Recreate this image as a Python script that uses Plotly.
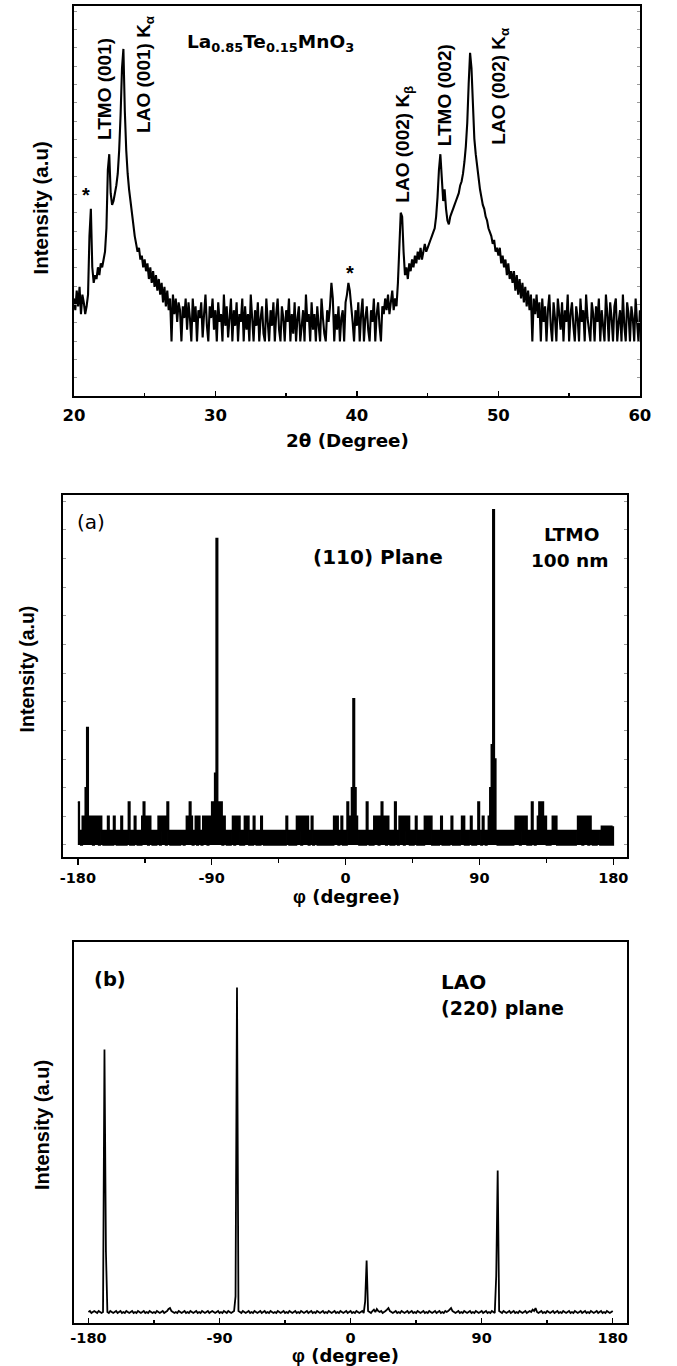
import numpy as np
import plotly.graph_objects as go

W, H = 677, 1366

# ---------------- data ----------------
# Panel 1: theta-2theta XRD scan (intensity in arbitrary units, sampled every 0.1 deg)
TWO_THETA_START = 20.0
TWO_THETA_STEP = 0.1
XRD_INTENSITY = [
    25, 22, 27, 23, 28, 21, 26, 24, 21, 23,   # 20.x
    26, 41, 48, 33, 29, 31, 30, 33, 31, 34,   # 21.x
    33, 35, 37, 43, 58, 62, 52, 49, 50, 52,   # 22.x
    54, 57, 63, 72, 84, 89, 73, 63, 57, 53,   # 23.x
    50, 47, 44, 41, 39, 37, 38, 35, 36, 33,   # 24.x
    35, 32, 34, 30, 33, 29, 32, 28, 31, 27,   # 25.x
    30, 26, 29, 24, 28, 23, 27, 22, 25, 14,   # 26.x
    26, 21, 25, 19, 24, 22, 14, 23, 20, 25,   # 27.x
    17, 24, 20, 14, 25, 19, 23, 14, 22, 20,   # 28.x
    24, 15, 21, 26, 18, 14, 23, 20, 25, 17,   # 29.x
    22, 14, 24, 19, 21, 14, 26, 18, 23, 15,   # 30.x
    20, 25, 14, 22, 18, 24, 14, 21, 19, 25,   # 31.x
    14, 23, 17, 21, 14, 26, 20, 14, 22, 18,   # 32.x
    24, 14, 20, 23, 16, 14, 25, 19, 14, 22,   # 33.x
    18, 24, 14, 21, 25, 17, 14, 23, 20, 14,   # 34.x
    22, 19, 25, 14, 21, 16, 24, 14, 20, 23,   # 35.x
    14, 18, 22, 14, 26, 19, 21, 14, 24, 17,   # 36.x
    21, 14, 23, 18, 14, 25, 20, 16, 14, 22,   # 37.x
    19, 23, 29, 25, 14, 21, 17, 23, 14, 20,   # 38.x
    22, 14, 24, 26, 29, 27, 23, 19, 14, 22,   # 39.x
    18, 24, 14, 21, 25, 14, 20, 23, 17, 14,   # 40.x
    22, 19, 25, 14, 21, 24, 18, 14, 23, 21,   # 41.x
    25, 22, 26, 21, 24, 27, 22, 25, 23, 29,   # 42.x
    38, 47, 46, 37, 31, 33, 30, 34, 32, 35,   # 43.x
    33, 36, 34, 37, 35, 38, 35, 37, 39, 37,   # 44.x
    38, 39, 40, 41, 42, 43, 46, 51, 58, 62,   # 45.x
    56, 50, 53, 48, 45, 44, 46, 47, 48, 49,   # 46.x
    50, 51, 52, 54, 55, 57, 60, 64, 70, 80,   # 47.x
    88, 84, 75, 66, 62, 59, 56, 53, 51, 49,   # 48.x
    48, 46, 45, 43, 42, 41, 39, 40, 37, 38,   # 49.x
    36, 38, 34, 36, 33, 35, 31, 34, 30, 32,   # 50.x
    29, 32, 27, 31, 26, 30, 25, 29, 24, 28,   # 51.x
    23, 27, 22, 26, 14, 25, 21, 26, 20, 24,   # 52.x
    14, 25, 19, 23, 14, 22, 26, 18, 14, 24,   # 53.x
    20, 14, 25, 21, 17, 24, 14, 22, 19, 26,   # 54.x
    14, 21, 24, 18, 14, 23, 20, 14, 25, 19,   # 55.x
    22, 14, 26, 20, 17, 14, 24, 21, 14, 23,   # 56.x
    19, 25, 14, 22, 18, 14, 26, 21, 14, 24,   # 57.x
    20, 14, 23, 25, 14, 19, 22, 14, 26, 18,   # 58.x
    14, 24, 21, 14, 23, 20, 14, 25, 19, 14,   # 59.x
    22,                                       # 60.0
]

# Panel 2 (a): phi scan of LTMO (110), counts sampled every 1 deg from -180
PHI_START = -180
PHI_A_COUNTS = [
    3, 1, 0, 2, 1, 4, 8.2, 2, 1, 2,        # -180
    0, 2, 1, 2, 0, 2, 1, 0, 1, 0,          # -170
    2, 0, 1, 0, 2, 1, 0, 1, 0, 2,          # -160
    0, 1, 0, 1, 3, 0, 1, 0, 2, 1,          # -150
    0, 1, 0, 2, 3, 1, 2, 0, 2, 1,          # -140
    0, 1, 0, 1, 2, 0, 2, 1, 2, 0,          # -130
    3, 1, 0, 1, 0, 1, 0, 1, 0, 1,          # -120
    1, 0, 1, 2, 1, 3, 2, 0, 1, 2,          # -110
    0, 2, 1, 0, 2, 1, 2, 0, 2, 1,          # -100
    3, 1, 5, 21.4, 3, 1, 3, 0, 2, 1,       # -90
    0, 1, 0, 1, 2, 0, 2, 1, 2, 0,          # -80
    1, 0, 2, 1, 2, 0, 1, 0, 2, 1,          # -70
    0, 1, 0, 2, 1, 0, 1, 0, 1, 0,          # -60
    1, 0, 1, 0, 1, 0, 1, 0, 1, 0,          # -50
    2, 1, 0, 1, 0, 1, 0, 2, 1, 2,          # -40
    0, 2, 2, 1, 2, 0, 1, 2, 0, 1,          # -30
    1, 0, 1, 0, 1, 0, 1, 0, 1, 0,          # -20
    1, 0, 2, 1, 2, 0, 1, 2, 0, 1,          # -10
    0, 3, 1, 2, 4, 10.2, 4, 2, 1, 0,       # 0
    1, 0, 1, 0, 3, 1, 0, 1, 0, 2,          # 10
    1, 2, 0, 2, 3, 1, 2, 0, 2, 1,          # 20
    0, 1, 0, 3, 1, 0, 2, 1, 2, 0,          # 30
    2, 1, 2, 0, 1, 0, 1, 2, 0, 1,          # 40
    0, 1, 0, 2, 2, 1, 2, 2, 0, 1,          # 50
    0, 1, 0, 1, 2, 0, 1, 0, 1, 0,          # 60
    1, 2, 0, 1, 0, 1, 0, 1, 2, 2,          # 70
    0, 1, 0, 1, 2, 0, 1, 0, 1, 3,          # 80
    1, 0, 2, 1, 0, 1, 2, 4, 7, 23.4,       # 90
    6, 1, 0, 1, 0, 1, 0, 1, 0, 1,          # 100
    0, 1, 0, 1, 2, 1, 2, 0, 2, 1,          # 110
    2, 2, 0, 1, 0, 3, 1, 0, 1, 2,          # 120
    3, 2, 3, 1, 2, 0, 1, 0, 1, 2,          # 130
    1, 2, 0, 1, 0, 1, 0, 1, 0, 1,          # 140
    0, 1, 0, 1, 0, 1, 2, 1, 2, 0,          # 150
    2, 1, 2, 0, 2, 1, 0, 1, 0, 1,          # 160
    1, 0, 1.3, 0, 1.3, 0, 1.3, 0, 1.3, 0,  # 170
    1.3,                                   # 180
]

# Panel 3 (b): phi scan of LAO (220), sampled every 1 deg from -180
PHI_B_COUNTS = [
    0.3, 0.6, 0, 0.3, 0.6, 0.3, 0, 0.6, 0.3, 0,        # -180
    0.3, 79.2, 18.5, 0.3, 0, 0.6, 0.3, 0, 0.3, 0.6,    # -170
    0, 0.3, 0.6, 0, 0.3, 0, 0.6, 0.3, 0, 0.3,          # -160
    0.6, 0, 0.3, 0, 0.6, 0.3, 0, 0.3, 0.6, 0,          # -150
    0.3, 0, 0.6, 0.3, 0, 0.3, 0, 0.6, 0.3, 0,          # -140
    0.3, 0.6, 0, 0.3, 0.6, 1.2, 1.5, 0.6, 0.3, 0,      # -130
    0.3, 0, 0.6, 0.3, 0, 0.3, 0.6, 0, 0.3, 0,          # -120
    0.6, 0.3, 0, 0.3, 0.6, 0, 0.3, 0, 0.6, 0.3,        # -110
    0, 0.3, 0.6, 0, 0.3, 0.6, 0.3, 0, 0.3, 0.6,        # -100
    0, 0.3, 0, 0.6, 0.3, 0, 0.6, 0.3, 0, 0.3,          # -90
    0.6, 5.0, 97.8, 0.6, 0.3, 0, 0.6, 0.3, 0, 0.3,     # -80
    0.6, 0, 0.3, 0, 0.6, 0.3, 0, 0.3, 0.6, 0,          # -70
    0.3, 0.6, 0, 0.3, 0, 0.6, 0.3, 0, 0.3, 0,          # -60
    0.6, 0.3, 0, 0.3, 0.6, 0, 0.3, 0, 0.6, 0.3,        # -50
    0, 0.3, 0.6, 0, 0.3, 0, 0.6, 0.3, 0, 0.3,          # -40
    0.6, 0, 0.3, 0.6, 0, 0.3, 0, 0.6, 0.3, 0,          # -30
    0.3, 0.6, 0, 0.3, 0, 0.6, 0.3, 0, 0.3, 0.6,        # -20
    0, 0.3, 0, 0.6, 0.3, 0, 0.3, 0.6, 0, 0.3,          # -10
    0.6, 0, 0.3, 0, 0.6, 0.3, 0, 0.3, 0.6, 0,          # 0
    3.5, 15.8, 0.6, 0.3, 0, 0.6, 1.0, 0.3, 1.2, 0.6,   # 10
    0.3, 0.6, 0, 0.3, 0.6, 1.0, 1.5, 0.6, 0.3, 0,      # 20
    0.3, 0.6, 0, 0.3, 0, 0.6, 0.3, 0, 0.3, 0.6,        # 30
    0, 0.3, 0.6, 0, 0.3, 0, 0.6, 0.3, 0, 0.3,          # 40
    0.6, 0, 0.3, 0, 0.6, 0.3, 0, 0.3, 0.6, 0,          # 50
    0.3, 0.6, 0, 0.3, 0, 0.6, 0.3, 0.6, 1.0, 1.5,      # 60
    0.6, 0.3, 0, 0.3, 0.6, 0, 0.3, 0, 0.6, 0.3,        # 70
    0, 0.3, 0.6, 0, 0.3, 0, 0.6, 0.3, 0, 0.3,          # 80
    0.6, 0, 0.3, 0.6, 0, 0.3, 0, 0.6, 0.3, 0,          # 90
    11.2, 42.8, 0.6, 0.3, 0, 0.6, 0.3, 0, 0.3, 0.6,    # 100
    0, 0.3, 0.6, 0, 0.3, 0, 0.6, 0.3, 0, 0.3,          # 110
    0.6, 0, 0.3, 0.6, 0.3, 1.0, 0.6, 1.5, 0.3, 0,      # 120
    0.3, 0.6, 0, 0.3, 0, 0.6, 0.3, 0, 0.3, 0.6,        # 130
    0, 0.3, 0.6, 0, 0.3, 0, 0.6, 0.3, 0, 0.3,          # 140
    0.6, 0, 0.3, 0, 0.6, 0.3, 0, 0.3, 0.6, 0,          # 150
    0.3, 0.6, 0, 0.3, 0, 0.6, 0.3, 0, 0.3, 0.6,        # 160
    0, 0.3, 0.6, 0, 0.3, 0, 0.6, 0.3, 0, 0.3,          # 170
    0.6,                                               # 180
]

TWO_THETA_TICKS = [20, 30, 40, 50, 60]
PHI_TICKS = [-180, -90, 0, 90, 180]

assert len(XRD_INTENSITY) == 401, len(XRD_INTENSITY)
assert len(PHI_A_COUNTS) == 361, len(PHI_A_COUNTS)
assert len(PHI_B_COUNTS) == 361, len(PHI_B_COUNTS)

two_theta = np.round(TWO_THETA_START + TWO_THETA_STEP * np.arange(len(XRD_INTENSITY)), 2)
phi_a = PHI_START + np.arange(len(PHI_A_COUNTS))
phi_b = PHI_START + np.arange(len(PHI_B_COUNTS))

# ---------------- styling helpers ----------------
ARIAL = "Liberation Sans, Arial, Helvetica, sans-serif"
WIDE = "DejaVu Sans, Verdana, sans-serif"
PHI = '<span style="font-family:Liberation Sans, Arial, sans-serif">φ</span>'


def px(x):
    return x / W


def py(y):
    return 1 - y / H


def xdom(l, r):
    return [px(l), px(r)]


def ydom(top, bottom):
    return [py(bottom), py(top)]


fig = go.Figure()
fig.add_trace(go.Scatter(x=two_theta, y=XRD_INTENSITY, mode="lines",
                         line=dict(color="black", width=2.1, simplify=False),
                         xaxis="x", yaxis="y", showlegend=False, hoverinfo="skip"))
fig.add_trace(go.Scatter(x=phi_a, y=PHI_A_COUNTS, mode="lines",
                         line=dict(color="black", width=1.6, shape="hv", simplify=False),
                         fill="tozeroy", fillcolor="black",
                         xaxis="x2", yaxis="y2", showlegend=False, hoverinfo="skip"))
fig.add_trace(go.Scatter(x=phi_b, y=PHI_B_COUNTS, mode="lines",
                         line=dict(color="black", width=1.8, simplify=False),
                         xaxis="x3", yaxis="y3", showlegend=False, hoverinfo="skip"))

frame = dict(showline=True, linecolor="black", linewidth=2, mirror=True,
             showgrid=False, zeroline=False, fixedrange=True)

xaxis1 = dict(frame, domain=xdom(65, 650), anchor="y", range=[20, 60],
              tickmode="array", tickvals=TWO_THETA_TICKS,
              ticktext=[str(t) for t in TWO_THETA_TICKS],
              ticks="inside", ticklen=5, tickwidth=1.5, tickcolor="black",
              minor=dict(ticks="inside", ticklen=3, tickwidth=1.5, tickcolor="black",
                         tickvals=[25, 35, 45, 55]),
              tickfont=dict(family=WIDE, size=16.5, color="black", weight="bold"),
              ticklabelstandoff=3)
yaxis1 = dict(frame, domain=ydom(6, 396), anchor="x", range=[0, 100],
              showticklabels=False, ticks="inside", ticklen=3, tickwidth=1,
              tickcolor="#9a9a9a", tickmode="linear", tick0=0, dtick=4.7)
yaxis1["mirror"] = "ticks"

xaxis2 = dict(frame, domain=xdom(54, 637), anchor="y2", range=[-189.8, 189.4],
              tickmode="array", tickvals=PHI_TICKS, ticktext=[str(t) for t in PHI_TICKS],
              ticks="outside", ticklen=6, tickwidth=1.5, tickcolor="black",
              minor=dict(ticks="outside", ticklen=4, tickwidth=1.5, tickcolor="black",
                         tickvals=[-135, -45, 45, 135]),
              tickfont=dict(family=WIDE, size=14.5, color="black", weight="bold"),
              ticklabelstandoff=1)
yaxis2 = dict(frame, domain=ydom(495, 856.7), anchor="x2", range=[-0.82, 24.44],
              showticklabels=False, ticks="inside", ticklen=3, tickwidth=1,
              tickcolor="#9a9a9a", tickmode="linear", tick0=0, dtick=2)
yaxis2["mirror"] = "ticks"

xaxis3 = dict(frame, domain=xdom(65, 637), anchor="y3", range=[-190, 190],
              tickmode="array", tickvals=PHI_TICKS, ticktext=[str(t) for t in PHI_TICKS],
              ticks="inside", ticklen=5, tickwidth=1.5, tickcolor="black",
              minor=dict(ticks="inside", ticklen=3, tickwidth=1.5, tickcolor="black",
                         tickvals=[-135, -45, 45, 135]),
              tickfont=dict(family=WIDE, size=14.5, color="black", weight="bold"),
              ticklabelstandoff=1)
yaxis3 = dict(frame, domain=ydom(942, 1323), anchor="x3", range=[-3, 111.5],
              showticklabels=False, ticks="")

annotations = []


def fnt(size, family, weight="bold"):
    return dict(family=family, size=size, color="black", weight=weight)


def data_note(text, x, y, size=19, angle=0, family=ARIAL):
    annotations.append(dict(text=text, x=x, y=y, xref="x", yref="y", showarrow=False,
                            xanchor="center", yanchor="middle", textangle=angle,
                            font=fnt(size, family)))


def paper_note(text, x, y, size=20, angle=0, family=WIDE, weight="bold", xanchor="center"):
    annotations.append(dict(text=text, x=px(x), y=py(y), xref="paper", yref="paper",
                            showarrow=False, xanchor=xanchor, yanchor="middle",
                            textangle=angle, font=fnt(size, family, weight)))


# Panel 1 peak labels
data_note("*", 20.88, 51.5, size=20)
data_note("*", 39.53, 31.5, size=20)
data_note("LTMO (001)", 22.12, 78.7, size=19, angle=-90)
data_note("LAO (001) K<sub>α</sub>", 25.07, 82.5, size=19, angle=-90)
data_note("LAO (002) K<sub>β</sub>", 43.3, 64.6, size=19, angle=-90)
data_note("LTMO (002)", 46.25, 77.2, size=19, angle=-90)
data_note("LAO (002) K<sub>α</sub>", 50.15, 79.7, size=19, angle=-90)
data_note("La<sub>0.85</sub>Te<sub>0.15</sub>MnO<sub>3</sub>", 33.92, 90.5, size=18.5, family=WIDE)

# Axis titles
paper_note("Intensity (a.u)", 31, 207.5, size=20.5, angle=-90, family=ARIAL)
paper_note("2θ (Degree)", 348, 440, size=18.3)
paper_note("Intensity (a.u)", 17, 669, size=19.5, angle=-90, family=ARIAL)
paper_note(PHI + " (degree)", 347, 896, size=18)
paper_note("Intensity (a.u)", 32, 1125, size=20, angle=-90, family=ARIAL)
paper_note(PHI + " (degree)", 346, 1355, size=18)

# Panel 2 labels
paper_note("(a)", 82.5, 521.5, size=20, weight="normal")
paper_note("(110) Plane", 379, 557, size=20)
paper_note("LTMO", 579, 534, size=18.5)
paper_note("100 nm", 578, 560, size=18.5)

# Panel 3 labels
paper_note("(b)", 102, 979, size=19.5)
paper_note("LAO", 442, 982, size=20, xanchor="left")
paper_note("(220) plane", 442, 1008, size=19, xanchor="left")

fig.update_layout(
    width=W, height=H,
    margin=dict(l=0, r=0, t=0, b=0, pad=0),
    paper_bgcolor="white", plot_bgcolor="white",
    xaxis=xaxis1, yaxis=yaxis1,
    xaxis2=xaxis2, yaxis2=yaxis2,
    xaxis3=xaxis3, yaxis3=yaxis3,
    annotations=annotations,
    showlegend=False,
)

fig.write_html("out.html", config={"displayModeBar": False, "staticPlot": True},
               post_script="document.body.style.margin='0px';")
